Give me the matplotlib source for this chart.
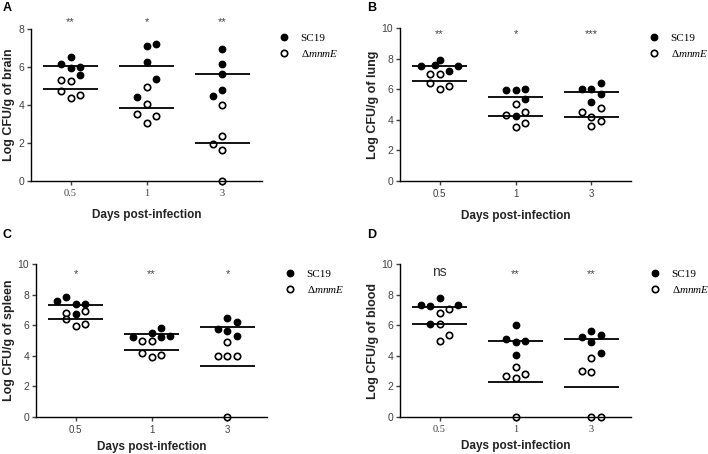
# Dot plots of bacterial load (SC19 vs mutant) in four organs
import numpy as np
import matplotlib
matplotlib.use("Agg")
import matplotlib.pyplot as plt
from matplotlib.lines import Line2D

plt.rcParams['font.family'] = ['Liberation Sans', 'DejaVu Sans']
plt.rcParams['mathtext.fontset'] = 'custom'
plt.rcParams['mathtext.rm'] = 'Liberation Serif'
plt.rcParams['mathtext.it'] = 'Liberation Serif:italic'

days = ["0.5", "1", "3"]

# brain
brain_sc19 = [[6.16, 6.51, 5.93, 5.98, 5.60], [7.11, 7.21, 6.26, 5.35, 4.40], [6.95, 6.14, 5.61, 4.77, 4.46]]
brain_mut = [[5.32, 5.25, 4.74, 4.35, 4.53], [4.96, 4.05, 3.54, 3.40, 3.07], [3.98, 2.37, 1.96, 1.63, 0.0]]
brain_sc19_slot = [[-1, 0, 0, 1, 1], [0, 1, 0, 1, -1], [0, 0, 0, 0, -1]]
brain_mut_slot = [[-1, 0, -1, 0, 1], [0, 0, -1, 1, 0], [0, 0, -1, 0, 0]]
brain_mean_sc19 = [6.05, 6.07, 5.61]
brain_mean_mut = [4.84, 3.82, 1.98]
brain_sig = ["**", "*", "**"]

# lung
lung_sc19 = [[7.53, 7.62, 7.90, 7.18, 7.53], [5.94, 5.94, 6.00, 5.37, 4.28], [6.04, 6.04, 6.40, 5.72, 5.19]]
lung_mut = [[7.03, 7.03, 6.42, 6.24, 6.00], [5.07, 4.30, 4.50, 3.56, 3.78], [4.54, 4.21, 4.76, 3.95, 3.62]]
lung_sc19_slot = [[-2, -0.5, 0, 1, 2], [-1, 0, 1, 1, 0], [-1, 0, 1, 1, 0]]
lung_mut_slot = [[-1, 0, -1, 1, 0], [0, -1, 1, 0, 1], [-1, 0, 1, 1, 0]]
lung_mean_sc19 = [7.53, 5.50, 5.85]
lung_mean_mut = [6.57, 4.24, 4.19]
lung_sig = ["**", "*", "***"]

# spleen
spleen_sc19 = [[7.62, 7.88, 7.40, 7.40, 6.72], [5.26, 5.50, 5.83, 5.22, 5.28], [6.46, 6.22, 5.78, 5.63, 5.30]]
spleen_mut = [[6.79, 6.94, 6.42, 5.94, 6.07], [5.00, 4.98, 4.19, 3.93, 4.04], [4.93, 4.02, 4.02, 4.02, 0.0]]
spleen_sc19_slot = [[-2, -1, 0, 1, 0], [-2, 0, 1, 1, 2], [0, 1, -1, 0, 1]]
spleen_mut_slot = [[-1, 1, -1, 0, 1], [-1, 0, -1, 0, 1], [0, -1, 0, 1, 0]]
spleen_mean_sc19 = [7.31, 5.46, 5.87]
spleen_mean_mut = [6.44, 4.41, 3.36]
spleen_sig = ["*", "**", "*"]

# blood
blood_sc19 = [[7.34, 7.27, 7.82, 7.34, 6.09], [6.00, 5.09, 4.89, 5.00, 4.08], [5.65, 5.26, 5.39, 4.91, 4.17]]
blood_mut = [[6.79, 7.07, 6.09, 5.39, 4.98], [3.28, 2.69, 2.58, 2.80, 0.0], [3.86, 3.03, 2.95, 0.0, 0.0]]
blood_sc19_slot = [[-2, -1, 0, 2, -1], [0, -1, 0, 1, 0], [0, -1, 1, 0, 1]]
blood_mut_slot = [[0, 1, 0, 1, 0], [0, -1, 0, 1, 0], [0, -1, 0, 0, 1]]
blood_mean_sc19 = [7.18, 5.00, 5.09]
blood_mean_mut = [6.09, 2.29, 1.96]
blood_sig = ["ns", "**", "**"]

SLOT = 0.12   # horizontal spacing between side-by-side dots
HALF = 0.36   # half width of mean line
MS = 4.6


def xy(values, slots):
    xs, ys = [], []
    for i, (vals, sl) in enumerate(zip(values, slots)):
        xs += [i + s * SLOT for s in sl]
        ys += vals
    return xs, ys


def panel(rect, letter, letter_xy, sc19, mut, sc19_slot, mut_slot, m_sc19, m_mut,
          sig, sig_y, ymax, ylabel, tick_family, legend_xy, xlabelpad):
    ax = fig.add_axes(rect)
    x, y = xy(sc19, sc19_slot)
    ax.plot(x, y, 'o', ms=MS, color='black', clip_on=False, zorder=2)
    x, y = xy(mut, mut_slot)
    ax.plot(x, y, 'o', ms=MS, mfc='white', mec='black', mew=1.2, clip_on=False, zorder=2)
    for i in range(3):
        ax.hlines([m_sc19[i], m_mut[i]], i - HALF, i + HALF, color='black', lw=1.3, zorder=3)
        if sig[i] == "ns":
            ax.text(i, sig_y, sig[i], ha='center', va='center', fontsize=10, color='#333333')
        else:
            ax.text(i, sig_y - 0.1, sig[i], ha='center', va='center', fontsize=8, color='#444444')

    ax.set_xlim(-0.52, 2.52)
    ax.set_ylim(0, ymax)
    ax.set_yticks(np.arange(0, ymax + 1, 2))
    ax.set_xticks(range(3))
    ax.set_xticklabels(days, family=tick_family, fontsize=7.5 if tick_family != 'Liberation Sans' else 7)
    ax.tick_params(axis='y', labelsize=7.5, colors='#404040', length=3, width=1, pad=2)
    ax.tick_params(axis='x', colors='#404040', length=3, width=1, pad=3)
    for s in ['top', 'right']:
        ax.spines[s].set_visible(False)
    for s in ['left', 'bottom']:
        ax.spines[s].set_linewidth(1.0)
    ax.set_ylabel(ylabel, fontsize=9, fontweight='bold', color='#222222', labelpad=2)
    ax.set_xlabel("Days post-infection", fontsize=8.5, fontweight='bold', color='#222222',
                  labelpad=xlabelpad)
    fig.text(letter_xy[0], letter_xy[1], letter, fontsize=9, fontweight='bold', va='center', ha='center')

    handles = [Line2D([], [], ls='none', marker='o', ms=MS, color='black'),
               Line2D([], [], ls='none', marker='o', ms=MS, mfc='white', mec='black', mew=1.2)]
    fig.legend(handles, ["SC19", r"$\Delta\mathit{mnmE}$"], loc='upper left',
               bbox_to_anchor=legend_xy, frameon=False, borderpad=0, borderaxespad=0,
               handlelength=1.0, handletextpad=1.0, labelspacing=0.45,
               prop={'family': 'Liberation Serif', 'size': 8})
    return ax


fig = plt.figure(figsize=(7.08, 4.54), dpi=100)
W, H = 708.0, 454.0

panel([31 / W, 1 - 181 / H, 231 / W, 152 / H], "A", (7 / W, 1 - 8 / H),
      brain_sc19, brain_mut, brain_sc19_slot, brain_mut_slot, brain_mean_sc19, brain_mean_mut,
      brain_sig, 8.44, 8, "Log CFU/g of brain", 'Liberation Serif', (278.5 / W, 1 - 33.5 / H), 8)
panel([400 / W, 1 - 181 / H, 231 / W, 152.7 / H], "B", (372 / W, 1 - 8 / H),
      lung_sc19, lung_mut, lung_sc19_slot, lung_mut_slot, lung_mean_sc19, lung_mean_mut,
      lung_sig, 9.74, 10, "Log CFU/g of lung", 'Liberation Sans', (648.5 / W, 1 - 33.5 / H), 8)
panel([36 / W, 1 - 417 / H, 231 / W, 152.7 / H], "C", (7 / W, 1 - 235 / H),
      spleen_sc19, spleen_mut, spleen_sc19_slot, spleen_mut_slot, spleen_mean_sc19, spleen_mean_mut,
      spleen_sig, 9.48, 10, "Log CFU/g of spleen", 'Liberation Sans', (284.5 / W, 1 - 269.5 / H), 4)
panel([400 / W, 1 - 417 / H, 231 / W, 152.7 / H], "D", (372 / W, 1 - 235 / H),
      blood_sc19, blood_mut, blood_sc19_slot, blood_mut_slot, blood_mean_sc19, blood_mean_mut,
      blood_sig, 9.48, 10, "Log CFU/g of blood", 'Liberation Serif', (649.5 / W, 1 - 269.5 / H), 4)

fig.savefig("out.png", dpi=100)
